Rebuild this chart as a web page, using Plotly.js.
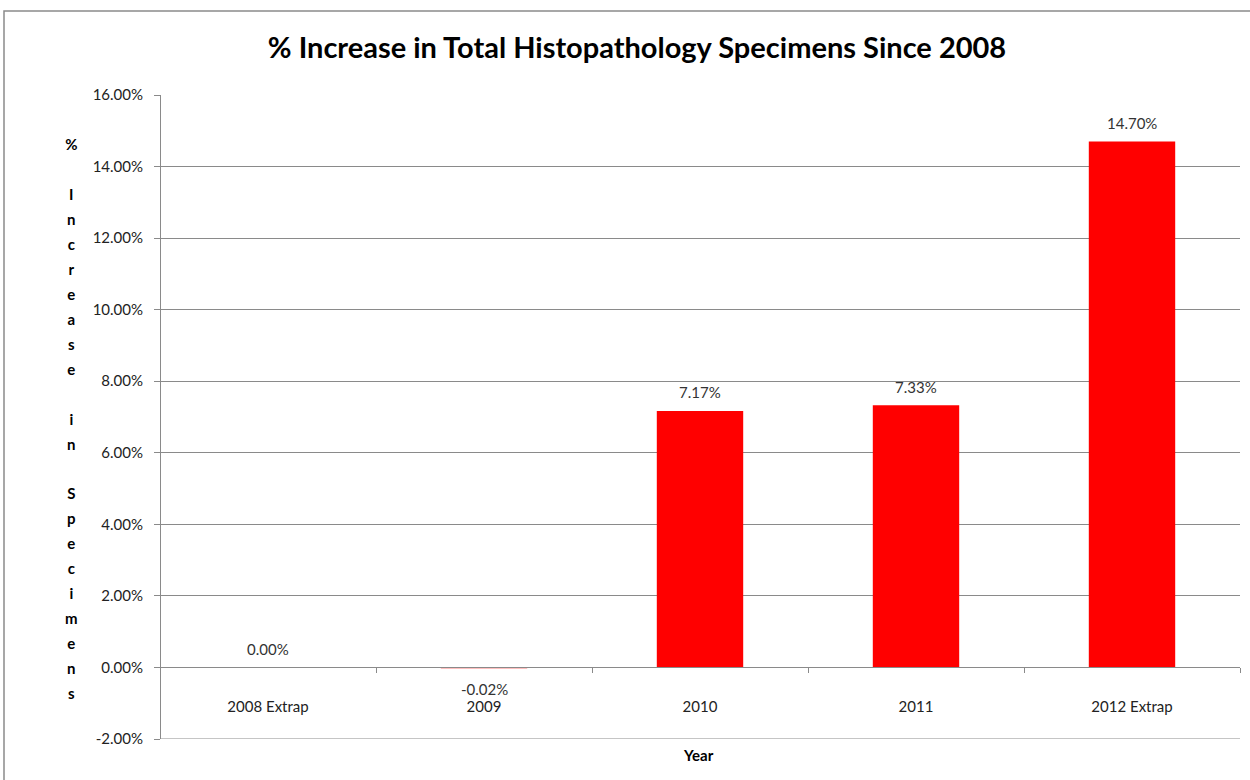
<!DOCTYPE html>
<html>
<head>
<meta charset="utf-8">
<script src="https://cdn.plot.ly/plotly-3.0.1.min.js"></script>
<style>
html,body{margin:0;padding:0;background:#fff;}
#chart{width:1250px;height:780px;}
</style>
</head>
<body>
<div id="chart"></div>
<script>
const categories = ["2008 Extrap", "2009", "2010", "2011", "2012 Extrap"];
const pctIncrease = [0.0, -0.0002, 0.0717, 0.0733, 0.147];
const yTickVals = [-0.02, 0, 0.02, 0.04, 0.06, 0.08, 0.10, 0.12, 0.14, 0.16];
const yTitleLetters = ["%", "", "I","n","c","r","e","a","s","e", "", "i","n", "", "S","p","e","c","i","m","e","n","s"];

const FONT = "Lato, 'Open Sans', sans-serif";
const L = 160, R = 10, T = 95, B = 41, W = 1250, H = 780;
const pw = W - L - R, ph = H - T - B;
const px2x = p => (p - L) / pw;
const py2y = p => (H - B - p) / ph;
const fmtPct = v => (v * 100).toFixed(2) + "%";

const trace = {
  type: "bar",
  x: categories,
  y: pctIncrease,
  marker: {color: "#FF0000", line: {width: 0}},
  hoverinfo: "x+y"
};

const yTitleText = yTitleLetters.map(c => c === "" ? " " : '<span style="font-size:15px">' + c + '</span>').join("<br>");

// value labels placed on the category axis by index (category position)
const valueLabels = categories.map((c, i) => {
  const v = pctIncrease[i];
  return {
    x: i, y: v, xref: "x", yref: "y",
    text: fmtPct(v),
    showarrow: false,
    xanchor: "center", yanchor: "middle",
    yshift: v < 0 ? -21 : 18.5,
    font: {family: FONT, size: 15, color: "#333"}
  };
});

const layout = {
  width: W, height: H,
  margin: {l: L, r: R, t: T, b: B},
  paper_bgcolor: "#fff",
  plot_bgcolor: "#fff",
  font: {family: FONT, size: 15, color: "#222"},
  showlegend: false,
  bargap: 0.6,
  title: {
    text: "<b>% Increase in Total Histopathology Specimens Since 2008</b>",
    font: {family: FONT, size: 29, color: "#000"},
    x: 637 / W, xref: "container", xanchor: "center",
    y: 1 - 48 / H, yref: "container", yanchor: "middle"
  },
  xaxis: {
    type: "category",
    categoryarray: categories, categoryorder: "array",
    range: [-0.5, categories.length - 0.5],
    anchor: "free",
    position: 2 / 18,
    showline: true, linecolor: "#8a8a8a", linewidth: 1,
    ticks: "outside", tickson: "boundaries", ticklen: 5, tickcolor: "#8a8a8a",
    ticklabelstandoff: 26,
    tickangle: 0,
    tickfont: {family: FONT, size: 15, color: "#222"},
    showgrid: false, zeroline: false,
    title: {text: ""},
    fixedrange: true
  },
  yaxis: {
    anchor: "free", position: 0,
    range: [-0.02, 0.16],
    tickmode: "array",
    tickvals: yTickVals,
    ticktext: yTickVals.map(fmtPct),
    showline: true, linecolor: "#8a8a8a", linewidth: 1,
    ticks: "outside", ticklen: 6, tickcolor: "#8a8a8a",
    ticklabelstandoff: 8,
    showgrid: true, gridcolor: "#8a8a8a", gridwidth: 1,
    zeroline: false,
    tickfont: {family: FONT, size: 15, color: "#222"},
    fixedrange: true
  },
  annotations: [
    {
      text: "<b>" + yTitleText + "</b>",
      xref: "paper", yref: "paper",
      x: px2x(71), y: py2y(418),
      xanchor: "center", yanchor: "middle",
      showarrow: false,
      align: "center",
      font: {family: FONT, size: 19.2, color: "#000"}
    },
    {
      text: "<b>Year</b>",
      xref: "paper", yref: "paper",
      x: px2x(698), y: py2y(755),
      xanchor: "center", yanchor: "middle",
      showarrow: false,
      font: {family: FONT, size: 15, color: "#000"}
    }
  ].concat(valueLabels),
  shapes: [
    {
      type: "rect", xref: "paper", yref: "paper",
      x0: px2x(4), x1: px2x(1256), y0: py2y(790), y1: py2y(11),
      line: {color: "#8a8a8a", width: 1.5}, fillcolor: "rgba(0,0,0,0)", layer: "below"
    },
    {
      type: "line", xref: "paper", yref: "y",
      x0: 0, x1: 1, y0: -0.02, y1: -0.02,
      line: {color: "#8a8a8a", width: 1}
    }
  ]
};

Plotly.newPlot("chart", [trace], layout, {displayModeBar: false, staticPlot: true});
</script>
</body>
</html>
